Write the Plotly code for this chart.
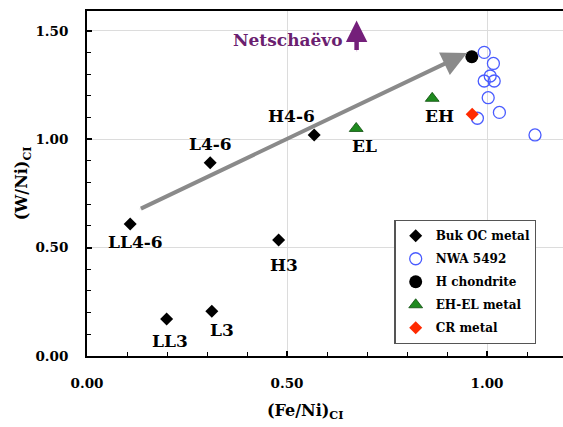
import plotly.graph_objects as go

# ---- data ----
buk_names = ["LL4-6", "L4-6", "H4-6", "H3", "L3", "LL3"]
buk_fe = [0.108, 0.308, 0.568, 0.479, 0.312, 0.199]
buk_w = [0.609, 0.892, 1.020, 0.535, 0.206, 0.171]

nwa_fe = [0.993, 1.016, 1.008, 0.993, 1.018, 1.003, 1.031, 0.976, 1.120]
nwa_w = [1.401, 1.350, 1.292, 1.269, 1.269, 1.192, 1.124, 1.097, 1.020]

hchon_fe = [0.962]
hchon_w = [1.381]

ehel_names = ["EL", "EH"]
ehel_fe = [0.673, 0.863]
ehel_w = [1.050, 1.189]

cr_fe = [0.963]
cr_w = [1.115]

trend_start = [0.131, 0.677]
trend_end = [0.950, 1.398]

netsch_x = 0.674
netsch_y = [1.405, 1.548]
netsch_label = "Netschaëvo"

x_ticks = [0.0, 0.5, 1.0]
y_ticks = [0.0, 0.5, 1.0, 1.5]

FONT = "DejaVu Serif"

fig = go.Figure()

fig.add_trace(go.Scatter(x=buk_fe, y=buk_w, mode="markers", name="<b>Buk OC metal</b>",
                         legendgroup="a",
                         marker=dict(symbol="diamond", size=10, color="black")))
fig.add_trace(go.Scatter(x=nwa_fe, y=nwa_w, mode="markers", name="<b>NWA 5492</b>",
                         legendgroup="b",
                         marker=dict(symbol="circle-open", size=12, color="#4a5cff",
                                     line=dict(width=1.3, color="#4a5cff"))))
fig.add_trace(go.Scatter(x=hchon_fe, y=hchon_w, mode="markers", name="<b>H chondrite</b>",
                         legendgroup="c",
                         marker=dict(symbol="circle", size=13, color="black")))
fig.add_trace(go.Scatter(x=ehel_fe, y=ehel_w, mode="markers", name="<b>EH-EL metal</b>",
                         legendgroup="d",
                         marker=dict(symbol="triangle-up", size=12, color="#1f8a1f",
                                     line=dict(width=0.8, color="#0d4d0d"))))
fig.add_trace(go.Scatter(x=cr_fe, y=cr_w, mode="markers", name="<b>CR metal</b>",
                         legendgroup="e",
                         marker=dict(symbol="diamond", size=10, color="#ff2a00")))

annotations = []
# point labels
buk_offsets = [(5, -18), (0, 19), (-23, 19), (5, -25), (10, -19), (3, -22)]
for n, x, y, (dx, dy) in zip(buk_names, buk_fe, buk_w, buk_offsets):
    annotations.append(dict(x=x, y=y, text=f"<b>{n}</b>", showarrow=False,
                            xshift=dx, yshift=dy,
                            font=dict(family=FONT, size=17, color="black")))
ehel_offsets = [(8, -18), (7, -18)]
for n, x, y, (dx, dy) in zip(ehel_names, ehel_fe, ehel_w, ehel_offsets):
    annotations.append(dict(x=x, y=y, text=f"<b>{n}</b>", showarrow=False,
                            xshift=dx, yshift=dy,
                            font=dict(family=FONT, size=17, color="black")))

# gray trend arrow (outer)
annotations.append(dict(x=trend_end[0], y=trend_end[1], ax=trend_start[0], ay=trend_start[1],
                        xref="x", yref="y", axref="x", ayref="y", text="",
                        showarrow=True, arrowhead=2, arrowsize=1.25, arrowwidth=4,
                        arrowcolor="#8a8a8a", standoff=0, startstandoff=0))
# Netschaevo arrow
annotations.append(dict(x=netsch_x, y=netsch_y[1], ax=netsch_x, ay=netsch_y[0],
                        xref="x", yref="y", axref="x", ayref="y", text="",
                        showarrow=True, arrowhead=2, arrowsize=0.95, arrowwidth=4.5,
                        arrowcolor="#741f7a", standoff=0, startstandoff=0))
annotations.append(dict(x=netsch_x, y=(netsch_y[0] + netsch_y[1]) / 2 - 0.02,
                        xref="x", yref="y", text=f"<b>{netsch_label}</b>",
                        showarrow=False, xanchor="right", xshift=-12,
                        font=dict(family=FONT, size=17, color="#6b1f70")))
# axis titles
annotations.append(dict(x=0.458, y=-0.125, xref="paper", yref="paper",
                        text="<b>(Fe/Ni)<sub>CI</sub></b>", showarrow=False,
                        yanchor="top", font=dict(family=FONT, size=16, color="black")))
annotations.append(dict(x=-0.135, y=0.5, xref="paper", yref="paper", textangle=-90,
                        text="<b>(W/Ni)<sub>CI</sub></b>", showarrow=False,
                        xanchor="center", font=dict(family=FONT, size=16, color="black")))

# inner light lines of arrows (double-line look)
shapes = [
    dict(type="line", xref="x", yref="y",
         x0=trend_start[0], y0=trend_start[1],
         x1=trend_start[0] + (trend_end[0] - trend_start[0]) * 0.94,
         y1=trend_start[1] + (trend_end[1] - trend_start[1]) * 0.94,
         line=dict(color="#e6e6e6", width=1.2)),
    dict(type="line", xref="x", yref="y",
         x0=netsch_x, y0=netsch_y[0], x1=netsch_x,
         y1=netsch_y[0] + (netsch_y[1] - netsch_y[0]) * 0.5,
         line=dict(color="#e0c8e2", width=1.2)),
]

axis_common = dict(
    showline=True, linecolor="black", linewidth=2,
    ticks="inside", ticklen=5, tickwidth=1.5, tickcolor="black",
    showgrid=True, gridcolor="#dcdcdc", gridwidth=1,
    zeroline=False,
    tickfont=dict(family=FONT, size=13.5, color="black"),
    minor=dict(dtick=0.1, ticks="inside", ticklen=4, tickwidth=1.2,
               tickcolor="black", showgrid=False),
)

fig.update_layout(
    width=563, height=427,
    margin=dict(l=87, r=0, t=11, b=71),
    paper_bgcolor="white", plot_bgcolor="white",
    xaxis=dict(range=[0, 1.19], tickvals=x_ticks,
               ticktext=[f"<b>{v:.2f}</b>" for v in x_ticks], mirror=True,
               ticklabelstandoff=14, **axis_common),
    yaxis=dict(range=[0, 1.592], tickvals=y_ticks,
               ticktext=[f"<b>{v:.2f}</b>" for v in y_ticks], ticklabelstandoff=14,
               **axis_common),
    showlegend=True,
    legend=dict(x=0.646, y=0.394, xanchor="left", yanchor="top",
                bordercolor="#555555", borderwidth=1.2, bgcolor="white",
                font=dict(family=FONT, size=12, color="black"),
                tracegroupgap=4, itemwidth=30),
    annotations=annotations,
    shapes=shapes,
)

fig.write_html("out.html", config={"displayModeBar": False},
               post_script="document.body.style.margin='0';document.body.style.padding='0';")
